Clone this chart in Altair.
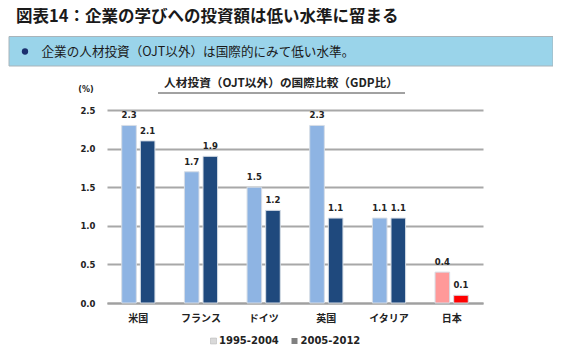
import altair as alt
import pandas as pd

categories = ["米国", "フランス", "ドイツ", "英国", "イタリア", "日本"]
period_1 = [2.3, 1.7, 1.5, 2.3, 1.1, 0.4]
period_2 = [2.1, 1.9, 1.2, 1.1, 1.1, 0.1]
series = ["1995-2004", "2005-2012"]
y_ticks = [0.0, 0.5, 1.0, 1.5, 2.0, 2.5]

rows = []
for c, a, b in zip(categories, period_1, period_2):
    jp = c == "日本"
    rows.append({"cat": c, "series": series[0], "value": a, "key": "jp1" if jp else "s1"})
    rows.append({"cat": c, "series": series[1], "value": b, "key": "jp2" if jp else "s2"})
df = pd.DataFrame(rows)

JP = "Noto Sans CJK JP"
NUM = "DejaVu Sans"

x_enc = alt.X("cat:N", sort=categories, title=None,
              scale=alt.Scale(paddingInner=0.47, paddingOuter=0.235),
              axis=alt.Axis(labelAngle=0, labelFont=JP, labelFontSize=10, labelFontWeight="bold",
                            labelColor="#222222", labelPadding=10, ticks=False,
                            domainColor="#a0a0a0", domainWidth=2, grid=False))
xo_enc = alt.XOffset("series:N", sort=series, scale=alt.Scale(paddingInner=0.216, paddingOuter=0))
y_enc = alt.Y("value:Q", title=None,
              scale=alt.Scale(domain=[0, 2.5], nice=False, zero=True),
              axis=alt.Axis(values=y_ticks, format=".1f", labelFont=NUM, labelFontSize=8.5,
                            labelFontWeight="bold", labelColor="#222222", labelPadding=12,
                            labelOverlap=False, ticks=False, domain=False, grid=True,
                            gridColor="#a8a8a8", gridWidth=1.8))

bars = alt.Chart(df).mark_bar(stroke="#d6dde6", strokeWidth=1).encode(
    x=x_enc, xOffset=xo_enc, y=y_enc,
    color=alt.Color("key:N", legend=None,
                    scale=alt.Scale(domain=["s1", "s2", "jp1", "jp2"],
                                    range=["#8EB4E3", "#1F497D", "#FF9999", "#FF0000"])))

labels = alt.Chart(df).mark_text(font=NUM, fontSize=8.5, fontWeight="bold", color="#222222",
                                 baseline="middle", dy=-10).encode(
    x=x_enc, xOffset=xo_enc, y=y_enc, text=alt.Text("value:Q", format=".1f"))


def txt(s, x, y, size, font=JP, weight="normal", align="left", color="#222222", baseline="middle"):
    return alt.Chart(pd.DataFrame({"t": [s]})).mark_text(
        font=font, fontSize=size, fontWeight=weight, align=align, baseline=baseline, color=color
    ).encode(x=alt.value(x), y=alt.value(y), text="t:N")


title = txt("図表14：企業の学びへの投資額は低い水準に留まる", -91, -101.5, 16.5, weight="bold",
            color="#1a1a1a", baseline="top")
box = alt.Chart(pd.DataFrame({"a": [0]})).mark_rect(fill="#9AD4EA", stroke="#a9b4ba", strokeWidth=1).encode(
    x=alt.value(-98), x2=alt.value(446), y=alt.value(-73.5), y2=alt.value(-44))
bullet = alt.Chart(pd.DataFrame({"a": [0]})).mark_point(filled=True, shape="circle", size=40,
                                                        color="#1B2F6E", opacity=1).encode(
    x=alt.value(-82), y=alt.value(-58.5))
box_text = txt("企業の人材投資（OJT以外）は国際的にみて低い水準。", -65.5, -58.5, 12.6, color="#1a1a1a")
chart_title = txt("人材投資（OJT以外）の国際比較（GDP比）", 174, -27, 11.7, weight="bold", align="center")
underline = alt.Chart(pd.DataFrame({"a": [0]})).mark_rule(color="#444444", strokeWidth=1).encode(
    x=alt.value(51), x2=alt.value(298), y=alt.value(-17))
pct = txt("(%)", -21, -20, 8, font=NUM, weight="bold", align="center")

sw1 = alt.Chart(pd.DataFrame({"a": [0]})).mark_square(size=36, filled=True, color="#d9d9d9",
                                                     stroke="#b0b0b0", strokeWidth=0.5, opacity=1).encode(
    x=alt.value(106.5), y=alt.value(231))
sw2 = alt.Chart(pd.DataFrame({"a": [0]})).mark_square(size=36, filled=True, color="#808080", opacity=1).encode(
    x=alt.value(187.5), y=alt.value(231))
lg1 = txt(series[0], 112, 231, 10, font=NUM, weight="bold")
lg2 = txt(series[1], 193.5, 231, 10, font=NUM, weight="bold")

chart = alt.layer(
    box, bars, labels, title, bullet, box_text, chart_title, underline, pct, sw1, sw2, lg1, lg2
).properties(
    width=376, height=193,
    autosize=alt.AutoSizeParams(type="none"),
    padding={"left": 99, "top": 102, "right": 70, "bottom": 46},
    background="white",
).configure_view(stroke=None)

chart.save("out.html", embed_options={"renderer": "svg", "actions": False})
